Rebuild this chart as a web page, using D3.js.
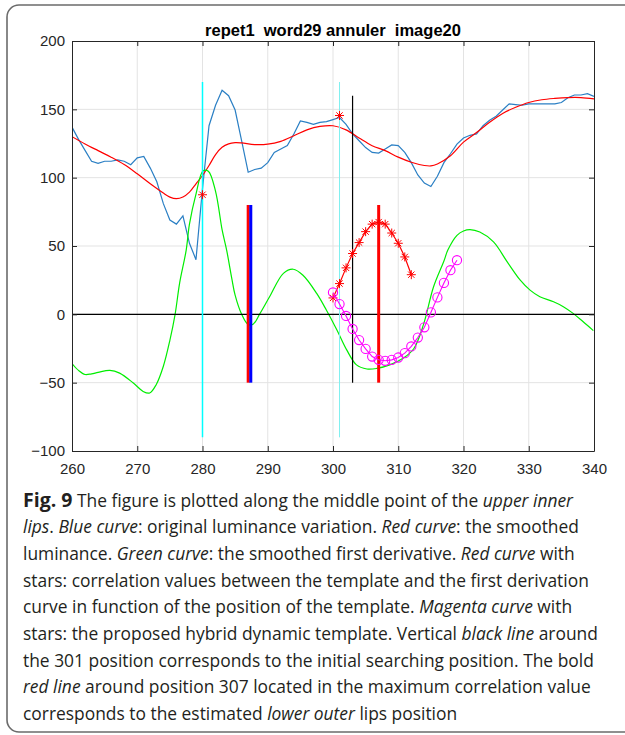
<!DOCTYPE html>
<html>
<head>
<meta charset="utf-8">
<script src="https://cdn.jsdelivr.net/npm/d3@7"></script>
<style>
  body { margin: 0; background: #fff; }
  svg text { font-family: "Liberation Sans", Arial, sans-serif; }
  .caption text { font-family: "Open Sans", sans-serif; }
</style>
</head>
<body>
<svg id="chart" width="625" height="735"></svg>
<script>
// original luminance, one sample per position 260..340
var blueX = d3.range(260, 341);
var blueY = [137, 128, 120, 112, 110.5, 112, 112, 113, 112, 109.5,
  114.5, 115.5, 107, 97, 81, 69, 66, 72, 52, 40,
  92, 138, 153, 164, 160, 149.5, 127, 104, 106, 107,
  111, 118.5, 121, 123.5, 132, 141.5, 140.5, 139, 140.5, 141,
  142.5, 144, 139, 132, 127, 122, 118.5, 118, 121, 124,
  123.5, 118.5, 111, 102, 96, 93.5, 101, 111, 117.5, 124.5,
  129, 131, 132, 138, 142, 145, 149.5, 154, 153.5, 153,
  154, 154, 154, 154, 154, 155, 158.5, 160.5, 160.5, 161.5, 159.5];

// smoothed luminance
var redX = [260, 262, 264, 266, 268, 270, 272, 274, 275, 276, 277, 278, 279, 280, 281, 282, 283, 284, 285, 286,
  288, 290, 292, 294, 296, 298, 300, 302, 304, 306, 308, 310, 312, 314, 315, 316, 318, 320, 322, 324,
  326, 328, 330, 332, 334, 336, 338, 340];
var redY = [130, 124.7, 119.8, 115, 109.6, 102.8, 95.5, 88.7, 85.8, 84.6, 85.8, 89.4, 95.5, 101.6, 108.9, 116.9, 122.2, 124.7, 125.6, 125.4,
  124.2, 124.5, 126.6, 130.7, 135, 137.5, 138, 135, 129, 123.4, 119.8, 115, 111.3, 108.9, 108.6, 110, 116, 126, 133, 140.5,
  147, 151.5, 155, 157, 158, 158.6, 158.6, 157.6];

// smoothed first derivative
var greenX = [260, 261, 262, 263, 264, 265.8, 267.3, 269.4, 270.9, 271.9, 272.9, 274, 275, 275.8, 276.5, 277.5, 278, 279, 280.1, 280.9,
  282, 283, 283.7, 284.5, 285, 286, 287, 287.8, 288.8, 290.3, 292.4, 293.9, 295.4, 297.5, 299, 300.6, 302.1, 303.6, 305.2, 306.7,
  308.7, 310.8, 312.4, 313.9, 315.4, 317, 317.6, 319, 320, 321, 322.5, 324.6, 326.7, 328.7, 330.2, 331.7, 333.8, 335.3, 336.8, 338.3, 339.9];
var greenY = [-36, -41, -44, -43.5, -42.5, -41, -43, -50.3, -56.4, -57.6, -51.5, -38, -19, 0, 23, 47, 66, 88, 105, 104.7,
  90, 62, 47, 26, 14, 0, -7.5, -7, 0.5, 13, 30, 33, 28.6, 15.3, 3, -11.4, -26, -37, -40, -39.6,
  -37, -32, -25, -7, 20, 39, 47, 57.8, 61, 62, 60.2, 53, 38.4, 25, 17.7, 12.9, 9.2, 5.6, 0.7, -5.3, -11.9];

// correlation values (red with stars)
var corrX = d3.range(300, 313);
var corrY = [12, 22.5, 34, 44.5, 52.5, 60.5, 66, 67.5, 66, 59.5, 52, 42, 29];

// hybrid dynamic template (magenta circles)
var tplX = d3.range(300, 320);
var tplY = [16, 7.5, -1.2, -10.7, -18.8, -25.3, -30.9, -33.3, -34, -33.3,
  -31.6, -28.4, -23.5, -17, -9.5, 1.4, 12.4, 23, 32.3, 39.6];

// single red stars
var markX = [280, 301];
var markY = [87.5, 145.5];

// vertical markers
var vlineX = [280, 301, 303, 287, 287.4, 307];
var vlineLo = [-90, -90, -50, -50, -50, -50];
var vlineHi = [170, 170, 160, 80, 80, 80];
var vlineColor = ["#00ffff", "#7ff0f0", "#000000", "#ff0000", "#0000ff", "#ff0000"];
var vlineWidth = [1.5, 1, 1.2, 3, 3, 3];

var xTicks = [260, 270, 280, 290, 300, 310, 320, 330, 340];
var yTicks = [-100, -50, 0, 50, 100, 150, 200];

var title = "repet1  word29 annuler  image20";

var captionLines = [
  [["b", "Fig. 9"], ["n", " The figure is plotted along the middle point of the "], ["i", "upper inner"]],
  [["i", "lips"], ["n", ". "], ["i", "Blue curve"], ["n", ": original luminance variation. "], ["i", "Red curve"], ["n", ": the smoothed"]],
  [["n", "luminance. "], ["i", "Green curve"], ["n", ": the smoothed first derivative. "], ["i", "Red curve"], ["n", " with"]],
  [["n", "stars: correlation values between the template and the first derivation"]],
  [["n", "curve in function of the position of the template. "], ["i", "Magenta curve"], ["n", " with"]],
  [["n", "stars: the proposed hybrid dynamic template. Vertical "], ["i", "black line"], ["n", " around"]],
  [["n", "the 301 position corresponds to the initial searching position. The bold"]],
  [["i", "red line"], ["n", " around position 307 located in the maximum correlation value"]],
  [["n", "corresponds to the estimated "], ["i", "lower outer"], ["n", " lips position"]]
];

(function() {
  var svg = d3.select("#chart");
  var mLeft = 72, mRight = 594, mTop = 41, mBottom = 451;

  var x = d3.scaleLinear().domain([260, 340]).range([mLeft, mRight]);
  var y = d3.scaleLinear().domain([-100, 200]).range([mBottom, mTop]);

  svg.append("rect").attr("width", 625).attr("height", 735).attr("fill", "#fff");

  // caption frame
  svg.append("rect").attr("x", 7).attr("y", 5).attr("width", 630).attr("height", 727)
    .attr("rx", 12).attr("fill", "none").attr("stroke", "#6b6b6b").attr("stroke-width", 1.6);

  // grid
  svg.append("g").selectAll("line").data(xTicks.slice(1, -1)).join("line")
    .attr("x1", d => x(d)).attr("x2", d => x(d)).attr("y1", mTop).attr("y2", mBottom)
    .attr("stroke", "#e3e3e3").attr("stroke-width", 1);
  svg.append("g").selectAll("line").data(yTicks.slice(1, -1)).join("line")
    .attr("y1", d => y(d)).attr("y2", d => y(d)).attr("x1", mLeft).attr("x2", mRight)
    .attr("stroke", "#e3e3e3").attr("stroke-width", 1);

  svg.append("clipPath").attr("id", "plot").append("rect")
    .attr("x", mLeft).attr("y", mTop).attr("width", mRight - mLeft).attr("height", mBottom - mTop);
  var plot = svg.append("g").attr("clip-path", "url(#plot)");

  function series(xs, ys) { return xs.map(function(v, i) { return [v, ys[i]]; }); }

  var line = d3.line().x(d => x(d[0])).y(d => y(d[1]));
  var smooth = d3.line().x(d => x(d[0])).y(d => y(d[1])).curve(d3.curveCatmullRom);

  plot.append("path").datum(series(blueX, blueY)).attr("d", line)
    .attr("fill", "none").attr("stroke", "#2a7fc4").attr("stroke-width", 1.2);
  plot.append("path").datum(series(redX, redY)).attr("d", smooth)
    .attr("fill", "none").attr("stroke", "#ff0000").attr("stroke-width", 1.2);
  plot.append("path").datum(series(greenX, greenY)).attr("d", smooth)
    .attr("fill", "none").attr("stroke", "#00ee00").attr("stroke-width", 1.2);

  // zero line
  plot.append("line").attr("x1", mLeft).attr("x2", mRight).attr("y1", y(0)).attr("y2", y(0))
    .attr("stroke", "#000").attr("stroke-width", 1.2);

  // vertical markers
  plot.append("g").selectAll("line").data(vlineX).join("line")
    .attr("x1", d => x(d)).attr("x2", d => x(d))
    .attr("y1", (d, i) => y(vlineLo[i])).attr("y2", (d, i) => y(vlineHi[i]))
    .attr("stroke", (d, i) => vlineColor[i]).attr("stroke-width", (d, i) => vlineWidth[i]);

  // red star curve
  plot.append("path").datum(series(corrX, corrY)).attr("d", line)
    .attr("fill", "none").attr("stroke", "#ff0000").attr("stroke-width", 1.2);

  function star(g, pts, color) {
    var r = 4.5, s = r * 0.7;
    g.selectAll("path.star").data(pts).join("path").attr("class", "star")
      .attr("transform", d => "translate(" + x(d[0]) + "," + y(d[1]) + ")")
      .attr("d", "M" + (-r) + ",0H" + r + "M0," + (-r) + "V" + r +
        "M" + (-s) + "," + (-s) + "L" + s + "," + s + "M" + (-s) + "," + s + "L" + s + "," + (-s))
      .attr("fill", "none").attr("stroke", color).attr("stroke-width", 1);
  }
  star(plot.append("g"), series(corrX, corrY), "#ff0000");
  star(plot.append("g"), series(markX, markY), "#ff0000");

  // magenta template
  plot.append("path").datum(series(tplX, tplY)).attr("d", line)
    .attr("fill", "none").attr("stroke", "#ff00ff").attr("stroke-width", 1.1);
  plot.append("g").selectAll("circle").data(series(tplX, tplY)).join("circle")
    .attr("cx", d => x(d[0])).attr("cy", d => y(d[1])).attr("r", 4.6)
    .attr("fill", "none").attr("stroke", "#ff00ff").attr("stroke-width", 1.1);

  // axes (box, inward ticks)
  function styleAxis(g) {
    g.select(".domain").attr("stroke", "#262626");
    g.selectAll(".tick line").attr("stroke", "#262626");
    g.selectAll(".tick text").attr("fill", "#262626").style("font-size", "15px");
  }
  svg.append("g").attr("transform", "translate(0," + mBottom + ")")
    .call(d3.axisBottom(x).tickValues(xTicks).tickSizeInner(-5).tickSizeOuter(0).tickPadding(12))
    .call(styleAxis);
  svg.append("g").attr("transform", "translate(0," + mTop + ")")
    .call(d3.axisTop(x).tickValues(xTicks).tickSizeInner(-5).tickSizeOuter(0).tickFormat(""))
    .call(styleAxis);
  svg.append("g").attr("transform", "translate(" + mLeft + ",0)")
    .call(d3.axisLeft(y).tickValues(yTicks).tickSizeInner(-5).tickSizeOuter(0).tickPadding(7))
    .call(styleAxis);
  svg.append("g").attr("transform", "translate(" + mRight + ",0)")
    .call(d3.axisRight(y).tickValues(yTicks).tickSizeInner(-5).tickSizeOuter(0).tickFormat(""))
    .call(styleAxis);

  svg.append("text").attr("x", (mLeft + mRight) / 2).attr("y", 35.5).attr("text-anchor", "middle")
    .style("font-size", "16.5px").style("font-weight", "bold").style("white-space", "pre")
    .attr("fill", "#000").text(title);

  // caption
  var cap = svg.append("g").attr("class", "caption").attr("transform", "translate(23,0)");
  var capLines = cap.selectAll("text").data(captionLines).join("text")
    .attr("x", 0).attr("y", (d, i) => 506.5 + i * 26.7)
    .style("font-size", "17.4px").attr("fill", "#231f20");
  capLines.selectAll("tspan").data(d => d).join("tspan")
    .style("font-weight", d => d[0] === "b" ? "bold" : "normal")
    .style("font-style", d => d[0] === "i" ? "italic" : "normal")
    .style("font-size", d => d[0] === "b" ? "19.5px" : null)
    .style("white-space", "pre")
    .text(d => d[1]);
})();
</script>
</body>
</html>
